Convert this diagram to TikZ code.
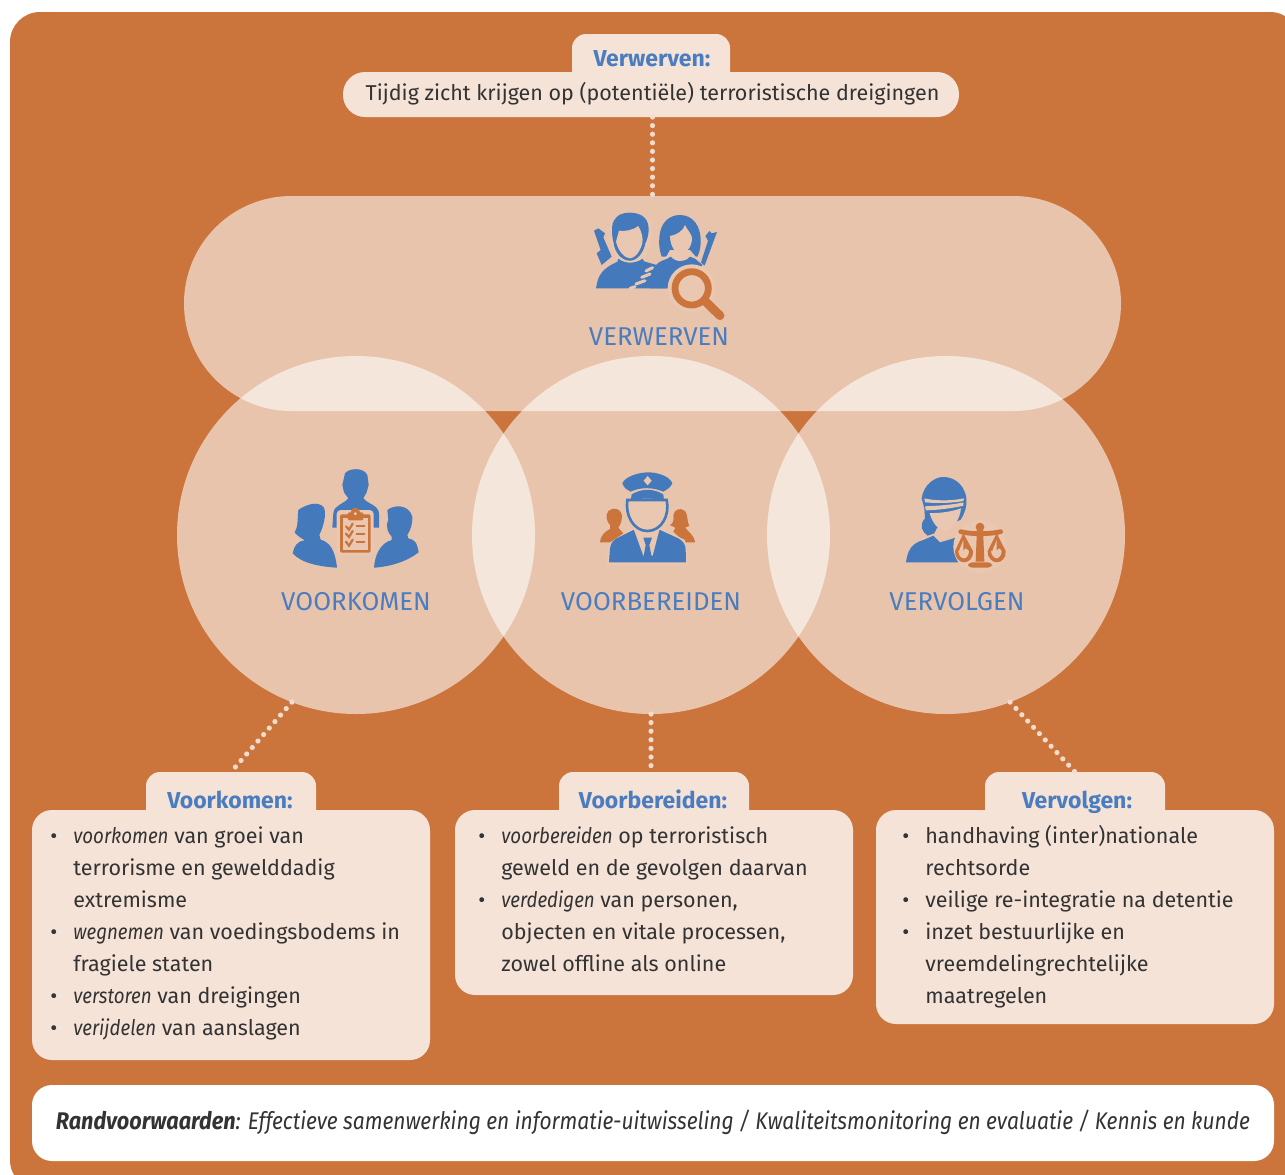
\documentclass[tikz,border=0pt]{standalone}
\usepackage{fontspec}
\setmainfont{Fira Sans}[ItalicFeatures={FakeStretch=0.87},BoldItalicFeatures={FakeStretch=0.9}]
\definecolor{orangeb}{HTML}{CB743B}
\definecolor{panelc}{HTML}{F5E3D8}
\definecolor{bluet}{HTML}{4A7DBF}
\definecolor{blueic}{HTML}{4479BB}
\definecolor{bgc}{HTML}{E9C7B0}
\definecolor{darkt}{HTML}{333333}
\definecolor{dotc}{HTML}{F2DCCD}
\newcommand{\bodyf}{\fontsize{10.75pt}{16pt}\selectfont}
\newcommand{\hdf}{\fontsize{11.5pt}{16pt}\selectfont\bfseries}
\newcommand{\capf}{\fontsize{12.9pt}{14pt}\selectfont}
\newcommand{\bl}{\makebox[11.5pt][l]{•}}
\newcommand{\ind}{\hspace*{11.5pt}}
\tikzset{
  x=0.5pt,y=-0.5pt,
  lobe/.style={fill=white,fill opacity=0.58,draw=none,inner sep=0pt,outer sep=0pt},
  panel/.style={fill=panelc,draw=none,rounded corners=10pt,inner sep=0pt,outer sep=0pt},
  heading/.style={text=bluet,font=\hdf,inner sep=0pt,anchor=base},
  capt/.style={text=bluet,font=\capf,inner sep=0pt},
  bodytext/.style={text=darkt,font=\bodyf,align=left,anchor=north west,inner sep=0pt},
  dotline/.style={draw=dotc,line width=2.6pt,line cap=round,dash pattern=on 0pt off 4.3pt},
  icon/.style={x=0.16667pt,y=-0.16667pt},
}
\begin{document}
\begin{tikzpicture}
\useasboundingbox (0,0) rectangle (1285,1174);
\begin{scope}
\clip (0,0) rectangle (1285,1174);
\fill[orangeb,rounded corners=15pt] (10,12) rectangle (1300,1190);
\end{scope}
% lobes
\node[lobe,rounded corners=53.7pt,minimum width=468.5pt,minimum height=107.5pt] (pill) at (652.5,303.5) {};
\node[lobe,circle,minimum size=179pt] (cL) at (356,535) {};
\node[lobe,circle,minimum size=179pt] (cM) at (651,535) {};
\node[lobe,circle,minimum size=179pt] (cR) at (946,535) {};
% top panel
\node[panel,rounded corners=7pt,minimum width=79pt,minimum height=30pt] (tabV) at (651,64) {};
\node[panel,rounded corners=11pt,minimum width=308pt,minimum height=22.5pt] (pV) at (651,94.5) {};
\node[heading] (hV) at (652,66) {Verwerven:};
\node[text=darkt,font=\bodyf,inner sep=0pt] (tV) at (652.5,93.5) {Tijdig zicht krijgen op (potentiële) terroristische dreigingen};
% lower panels
\node[panel,rounded corners=7pt,minimum width=85pt,minimum height=30pt] (tabL) at (231,802) {};
\node[panel,minimum width=199pt,minimum height=125pt] (pL) at (231,935) {};
\node[heading] (hL) at (230,808) {Voorkomen:};
\node[panel,rounded corners=7pt,minimum width=95pt,minimum height=30pt] (tabM) at (654,802) {};
\node[panel,minimum width=199pt,minimum height=92.5pt] (pM) at (654,902.5) {};
\node[heading] (hM) at (653,808) {Voorbereiden:};
\node[panel,rounded corners=7pt,minimum width=90pt,minimum height=30pt] (tabR) at (1075,802) {};
\node[panel,minimum width=199pt,minimum height=107pt] (pR) at (1075,917) {};
\node[heading] (hR) at (1077,808) {Vervolgen:};
\node[panel,fill=white,minimum width=621pt,minimum height=38pt] (pB) at (653,1123) {};
% body text
\node[bodytext] (tL) at (50,826) {\bl\textit{voorkomen} van groei van\\\ind terrorisme en gewelddadig\\\ind extremisme\\\bl\textit{wegnemen} van voedingsbodems in\\\ind fragiele staten\\\bl\textit{verstoren} van dreigingen\\\bl\textit{verijdelen} van aanslagen};
\node[bodytext] (tM) at (478,826) {\bl\textit{voorbereiden} op terroristisch\\\ind geweld en de gevolgen daarvan\\\bl\textit{verdedigen} van personen,\\\ind objecten en vitale processen,\\\ind zowel offline als online};
\node[bodytext] (tR) at (902,825) {\bl handhaving (inter)nationale\\\ind rechtsorde\\\bl veilige re-integratie na detentie\\\bl inzet bestuurlijke en\\\ind vreemdelingrechtelijke\\\ind maatregelen};
\node[text=darkt,font=\fontsize{12.05pt}{14pt}\selectfont\itshape,inner sep=0pt] (tB) at (653,1122) {\textbf{Randvoorwaarden}: Effectieve samenwerking en informatie-uitwisseling / Kwaliteitsmonitoring en evaluatie / Kennis en kunde};
% captions
\node[capt] (capT) at (659,337) {VERWERVEN};
\node[capt] (capL) at (356,602) {VOORKOMEN};
\node[capt] (capM) at (651,602) {VOORBEREIDEN};
\node[capt] (capR) at (957,602) {VERVOLGEN};
% connectors
\draw[dotline] (pill.north |- pV.south) -- (pill.north);
\draw[dotline] (cL.-111) -- (tabL.north);
\draw[dotline] (cM.south) -- (cM.south |- tabM.north);
\draw[dotline] (cR.-69) -- (tabR.north);
% ICON verwerven
\begin{scope}[shift={(570,200)},icon]
\fill[blueic] (72,92) -- (85,85) -- (105,100) -- (100,112) -- (125,170) -- (95,195) -- (80,160) -- (92,150) -- cycle;
\fill[blueic] (441,96) -- (425,100) -- (418,93) -- (406,108) -- (414,122) -- (392,190) -- (404,196) -- (432,120) -- cycle;
% woman
\fill[blueic] (268,115) .. controls (270,65) and (300,45) .. (330,45) .. controls (370,45) and (392,80) .. (392,120) .. controls (392,140) and (390,155) .. (382,170) -- (275,170) .. controls (268,150) and (266,130) .. (268,115) -- cycle;
\fill[bgc] (300,108) .. controls (320,105) and (340,92) .. (345,75) .. controls (355,95) and (368,105) .. (366,118) .. controls (364,145) and (345,162) .. (332,162) .. controls (318,162) and (300,140) .. (300,108) -- cycle;
% bodies
\fill[bgc] (262,190) -- (290,168) -- (300,150) -- (360,150) -- (375,168) -- (400,195) -- cycle;
\fill[blueic] (258,195) .. controls (270,180) and (290,180) .. (302,170) .. controls (318,188) and (345,188) .. (360,170) -- (375,176) -- (398,195) -- (330,265) -- (240,265) -- cycle;
\fill[blueic] (78,265) .. controls (84,225) and (95,205) .. (150,182) .. controls (170,198) and (195,198) .. (215,182) -- (260,195) -- (290,265) -- cycle;
% man head
\fill[bgc] (118,60) -- (245,60) -- (245,120) -- (225,178) -- (180,195) -- (140,178) -- (118,120) -- cycle;
\fill[blueic] (145,176) .. controls (165,192) and (195,192) .. (218,176) -- (222,184) .. controls (195,200) and (165,200) .. (142,184) -- cycle;
\fill[blueic] (128,70) .. controls (140,42) and (160,38) .. (178,38) .. controls (200,38) and (235,45) .. (236,85) .. controls (236,110) and (230,120) .. (226,130) .. controls (220,160) and (200,182) .. (180,182) .. controls (160,182) and (135,165) .. (130,125) .. controls (125,105) and (125,85) .. (128,70) -- cycle;
\fill[bgc] (147,92) .. controls (165,95) and (190,90) .. (205,78) .. controls (215,95) and (220,115) .. (217,130) .. controls (210,155) and (195,175) .. (180,175) .. controls (165,175) and (145,155) .. (138,125) -- cycle;
\draw[bgc,line width=1.5pt,line cap=round] (248,203) -- (228,213) (240,222) -- (215,232) (225,242) -- (198,252) (195,260) -- (180,265);
% magnifier
\fill[bgc] (365,265) circle[radius=72];
\draw[orangeb,line width=3.4pt] (365,265) circle[radius=50];
\draw[orangeb,line width=4.4pt,line cap=round] (408,306) -- (450,347);
\end{scope}
% ICON voorkomen
\begin{scope}[shift={(280,455)},icon]
\fill[blueic] (195,55) .. controls (205,40) and (250,35) .. (262,60) -- (266,90) -- (260,112) -- (250,130) .. controls (265,148) and (295,150) .. (297,175) -- (297,218) -- (157,218) -- (160,175) .. controls (162,150) and (190,148) .. (205,130) -- (192,112) -- (187,90) -- cycle;
\fill[blueic] (55,165) .. controls (75,150) and (115,135) .. (132,158) .. controls (140,180) and (130,215) .. (118,240) -- (122,254) .. controls (150,262) and (165,285) .. (171,338) .. controls (120,335) and (65,325) .. (38,295) .. controls (42,275) and (50,258) .. (75,256) .. controls (60,248) and (50,240) .. (44,232) .. controls (55,215) and (52,190) .. (55,165) -- cycle;
\fill[blueic] (322,165) .. controls (340,150) and (385,145) .. (397,185) .. controls (398,205) and (392,225) .. (382,240) -- (385,250) .. controls (405,255) and (410,260) .. (416,292) .. controls (380,320) and (330,335) .. (282,338) .. controls (285,300) and (300,265) .. (335,255) -- (335,245) .. controls (325,235) and (315,215) .. (325,195) -- cycle;
\fill[bgc,rounded corners=2pt] (170,165) rectangle (281,302);
\fill[orangeb,rounded corners=1pt] (180,178) rectangle (272,293);
\fill[bgc] (188,190) rectangle (263,285);
\fill[orangeb,rounded corners=1pt] (203,172) rectangle (250,196);
\fill[orangeb] (226,172) circle[radius=14];
\fill[bgc] (226,176) circle[radius=5];
\draw[orangeb,line width=1.1pt,line cap=round] (198,214) -- (207,224) -- (218,206) (198,236) -- (207,246) -- (218,228) (198,260) -- (207,272) -- (218,254);
\draw[orangeb,line width=1.1pt] (228,214) -- (255,214) (228,238) -- (255,238) (228,262) -- (255,262);
\end{scope}
% ICON voorbereiden
\begin{scope}[shift={(590,465)},icon]
\fill[orangeb] (30,232) .. controls (32,210) and (45,200) .. (60,192) -- (60,180) .. controls (50,170) and (45,150) .. (55,138) .. controls (70,125) and (92,130) .. (96,150) .. controls (96,170) and (90,180) .. (85,188) -- (100,205) -- (60,232) -- cycle;
\fill[orangeb] (315,232) .. controls (312,210) and (295,200) .. (285,188) -- (298,183) .. controls (290,170) and (295,150) .. (285,138) .. controls (270,125) and (252,135) .. (250,150) .. controls (252,165) and (250,175) .. (240,180) -- (256,188) -- (250,200) -- (285,232) -- cycle;
\fill[bgc] (50,300) -- (55,240) -- (125,190) -- (215,190) -- (285,225) -- (295,300) -- cycle;
\fill[blueic] (57,292) -- (60,250) .. controls (62,235) and (70,225) .. (80,220) -- (130,195) -- (210,195) -- (265,220) .. controls (280,228) and (287,240) .. (287,255) -- (288,292) -- cycle;
\fill[bgc] (132,195) -- (160,272) -- (188,272) -- (208,195) -- cycle;
\fill[blueic] (160,218) -- (186,218) -- (178,240) -- (188,290) -- (158,290) -- (167,240) -- cycle;
\draw[blueic,fill=bgc,line width=1.3pt] (112,105) .. controls (105,150) and (130,198) .. (172,198) .. controls (215,198) and (240,150) .. (230,105) -- cycle;
\fill[blueic] (97,55) .. controls (105,35) and (145,22) .. (175,22) .. controls (205,22) and (240,35) .. (247,55) .. controls (240,70) and (228,75) .. (220,80) .. controls (190,66) and (150,66) .. (122,80) .. controls (112,75) and (102,70) .. (97,55) -- cycle;
\fill[blueic] (125,88) .. controls (155,70) and (190,70) .. (220,88) -- (222,108) .. controls (190,98) and (150,98) .. (122,108) -- cycle;
\fill[bgc] (173,33) -- (185,47) -- (173,61) -- (161,47) -- cycle;
\end{scope}
% ICON vervolgen
\begin{scope}[shift={(895,465)},icon]
\fill[blueic] (33,292) .. controls (38,255) and (50,235) .. (85,225) -- (115,212) -- (135,232) .. controls (150,228) and (170,222) .. (190,215) -- (190,292) -- cycle;
\fill[blueic] (80,100) .. controls (85,60) and (120,35) .. (145,36) .. controls (170,36) and (205,50) .. (214,98) .. controls (216,125) and (210,145) .. (196,165) -- (125,190) -- (118,205) -- (98,212) .. controls (80,200) and (72,180) .. (90,160) -- (88,130) -- cycle;
\fill[bgc] (88,100) .. controls (120,108) and (170,108) .. (207,100) -- (205,108) .. controls (170,115) and (120,115) .. (90,112) -- cycle;
\fill[bgc] (90,124) .. controls (130,122) and (170,120) .. (205,112) -- (205,122) .. controls (170,130) and (130,135) .. (93,136) -- cycle;
\fill[bgc] (104,144) .. controls (135,145) and (170,140) .. (198,130) .. controls (195,165) and (170,198) .. (150,198) .. controls (130,198) and (110,170) .. (104,144) -- cycle;
\fill[bgc] (255,245) circle[radius=80];
\fill[orangeb] (255,186) circle[radius=13];
\draw[orangeb,line width=2.4pt,line cap=round] (197,200) .. controls (225,208) and (285,208) .. (317,200);
\fill[orangeb] (246,190) -- (264,190) -- (268,290) -- (242,290) -- cycle;
\fill[orangeb,rounded corners=2pt] (219,292) rectangle (291,308);
\fill[orangeb] (205,205) -- (180,258) .. controls (178,278) and (195,292) .. (207,292) .. controls (222,292) and (236,278) .. (234,258) -- cycle;
\fill[bgc] (205,225) -- (192,258) -- (202,258) -- (213,250) -- (222,258) .. controls (222,270) and (214,280) .. (207,280) .. controls (198,280) and (190,270) .. (190,258) -- (205,258) -- cycle;
\fill[orangeb] (305,205) -- (278,258) .. controls (276,278) and (293,292) .. (305,292) .. controls (320,292) and (334,278) .. (332,258) -- cycle;
\fill[bgc] (305,225) -- (292,258) -- (302,258) -- (313,250) -- (320,258) .. controls (320,270) and (312,280) .. (305,280) .. controls (298,280) and (288,270) .. (288,258) -- (305,258) -- cycle;
\end{scope}
\end{tikzpicture}
\end{document}
